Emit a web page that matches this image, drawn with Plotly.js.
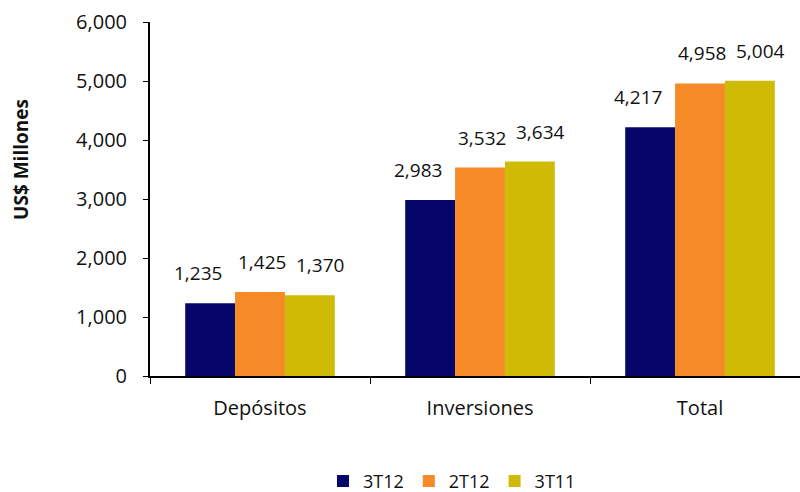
<!DOCTYPE html>
<html>
<head>
<meta charset="utf-8">
<script src="https://cdn.plot.ly/plotly-3.0.1.min.js"></script>
<style>html,body{margin:0;padding:0;background:#fff;}#chart{width:800px;height:492px;}</style>
</head>
<body>
<div id="chart"></div>
<script>
const categories = ["Depósitos", "Inversiones", "Total"];
const seriesNames = ["3T12", "2T12", "3T11"];
const values3T12 = [1235, 2983, 4217];
const values2T12 = [1425, 3532, 4958];
const values3T11 = [1370, 3634, 5004];
const yTicks = [0, 1000, 2000, 3000, 4000, 5000, 6000];

const allValues = [values3T12, values2T12, values3T11];
const colors = ["#06066a", "#f68a26", "#cfbb05"];
const labelShift = [-62, 2, 60];
const FONT = "'Open Sans', sans-serif";

const traces = seriesNames.map((n, i) => ({
  type: "bar", name: n, x: categories, y: allValues[i],
  marker: {color: colors[i], line: {width: 0}},
  hoverinfo: "none"
}));

const annotations = [];
allValues.forEach((vals, i) => {
  vals.forEach((v, j) => {
    annotations.push({
      x: categories[j], y: v, xref: "x", yref: "y",
      text: v.toLocaleString("en-US"), showarrow: false,
      xshift: labelShift[i], yshift: 30, yanchor: "middle",
      font: {family: FONT, size: 19, color: "#111"}
    });
  });
});

const layout = {
  width: 800, height: 492,
  margin: {l: 150, r: 0, t: 22, b: 116, autoexpand: false},
  paper_bgcolor: "#fff", plot_bgcolor: "#fff",
  barmode: "group", bargap: 0.32, bargroupgap: 0,
  font: {family: FONT, size: 17, color: "#111"},
  showlegend: true,
  legend: {orientation: "h", x: 0.565, xanchor: "center", xref: "container", y: 0.022, yanchor: "middle", yref: "container",
           font: {family: FONT, size: 18, color: "#111"}, itemwidth: 30, tracegroupgap: 0},
  xaxis: {
    type: "category", range: [-0.5, 2.4545], fixedrange: true,
    showline: true, linecolor: "#000", linewidth: 2,
    ticks: "outside", tickson: "boundaries", ticklen: 6, tickcolor: "#000", tickwidth: 1,
    showgrid: false, zeroline: false,
    ticklabelstandoff: 13,
    tickfont: {family: FONT, size: 20, color: "#111"}
  },
  yaxis: {
    range: [0, 6000], tickvals: yTicks, tickformat: ",d",
    showline: true, linecolor: "#000", linewidth: 2,
    ticks: "outside", ticklen: 5, tickcolor: "#000", tickwidth: 1,
    showgrid: false, zeroline: false,
    ticklabelstandoff: 12,
    tickfont: {family: FONT, size: 20, color: "#111"},
    title: {text: "<b>" + "\u00a0".repeat(16) + "US$ Millones</b>", standoff: 42, font: {family: FONT, size: 19, color: "#111"}}
  },
  annotations: annotations
};

Plotly.newPlot("chart", traces, layout, {displayModeBar: false, staticPlot: true});
</script>
</body>
</html>
